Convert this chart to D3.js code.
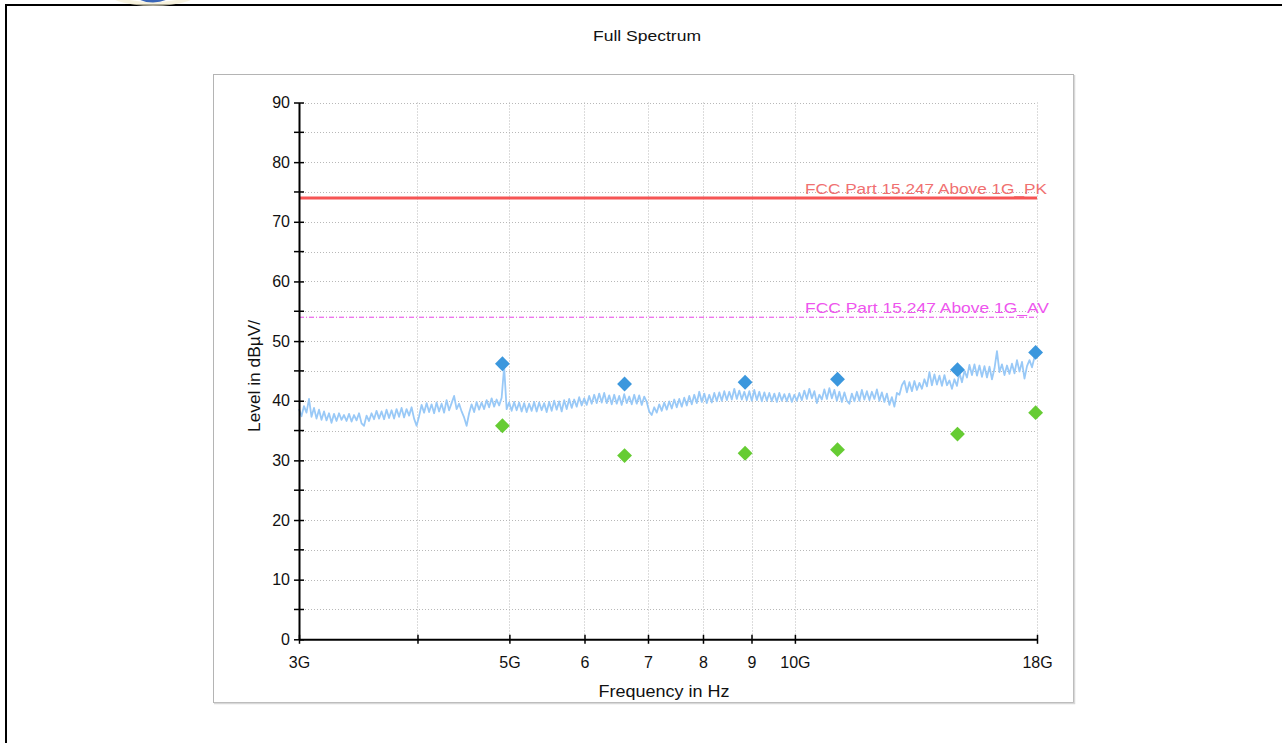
<!DOCTYPE html>
<html>
<head>
<meta charset="utf-8">
<script src="https://cdn.jsdelivr.net/npm/d3@7/dist/d3.min.js"></script>
<style>
  html, body { margin: 0; padding: 0; background: #fff; }
  svg { display: block; }
  text { font-family: "Liberation Sans", Arial, sans-serif; }
</style>
</head>
<body>
<svg id="chart" width="1282" height="743"></svg>
<script>
// ---- data ----
const chartTitle = "Full Spectrum";
const xAxisTitle = "Frequency in Hz";
const yAxisTitle = "Level in dBµV/";

// frequency axis (GHz): ticks and their labels
const xTickValues = [3, 4, 5, 6, 7, 8, 9, 10, 18];
const xTickLabels = ["3G", "", "5G", "6", "7", "8", "9", "10G", "18G"];
const xGridValues = [4, 5, 6, 7, 8, 9, 10, 18];

// level axis (dBµV)
const yMajorTicks = [0, 10, 20, 30, 40, 50, 60, 70, 80, 90];
const yMinorTicks = [5, 15, 25, 35, 45, 55, 65, 75, 85];

// limit lines
const limitNames = ["FCC Part 15.247 Above 1G_PK", "FCC Part 15.247 Above 1G_AV"];
const limitLevels = [74, 54];

// sweep: start / stop (GHz), levels at log-spaced points
const sweepStart = 3, sweepStop = 18;
const traceLevels = [
  38.6, 37.4, 39.1, 38.0, 40.3, 37.3, 38.8, 37.0, 38.5, 36.8, 38.2, 36.7, 37.9, 36.3, 37.8, 36.6, 37.9, 36.8, 37.6, 36.6,
  37.8, 36.5, 37.6, 36.7, 37.9, 36.2, 35.8, 37.5, 36.6, 37.9, 36.9, 38.3, 37.0, 38.2, 36.9, 38.5, 37.1, 38.4, 37.0, 38.6,
  37.3, 38.8, 37.2, 38.6, 37.5, 38.9, 37.0, 35.8, 37.4, 39.3, 38.0, 39.6, 38.1, 39.4, 37.9, 39.7, 38.2, 39.5, 38.0, 40.1,
  38.4, 39.6, 40.8, 38.6, 39.5, 38.2, 37.2, 35.8, 37.9, 39.4, 38.1, 39.8, 38.5, 39.7, 38.6, 40.1, 38.9, 40.4, 39.0, 40.2,
  39.2, 40.5, 45.7, 38.6, 39.7, 38.3, 39.8, 38.4, 39.7, 38.2, 39.6, 38.1, 39.5, 38.3, 39.8, 38.2, 39.7, 38.4, 39.6, 38.1,
  39.8, 38.3, 40.0, 38.5, 39.9, 38.2, 40.1, 38.6, 40.3, 38.8, 40.2, 39.0, 40.6, 39.2, 40.4, 39.3, 40.8, 39.5, 41.0, 39.6,
  41.2, 39.7, 41.3, 39.6, 40.9, 39.4, 41.0, 39.5, 40.8, 39.3, 41.1, 39.6, 40.7, 39.4, 41.0, 39.5, 40.9, 39.3, 40.7, 39.8,
  38.2, 37.6, 38.9, 38.0, 39.4, 38.3, 39.7, 38.5, 39.9, 38.7, 40.2, 38.9, 40.3, 39.0, 40.5, 39.2, 40.8, 39.4, 41.0, 39.6,
  41.5, 39.8, 41.2, 39.6, 41.0, 39.7, 41.3, 39.9, 41.4, 40.0, 41.6, 40.1, 41.5, 40.2, 42.0, 40.3, 41.7, 40.2, 41.5, 40.1,
  41.6, 40.0, 41.8, 40.1, 41.5, 39.9, 41.4, 40.0, 41.3, 39.9, 41.2, 39.8, 41.3, 40.0, 41.1, 39.9, 41.2, 39.8, 41.0, 40.0,
  41.3, 40.1, 41.7, 40.3, 42.0, 40.4, 41.6, 39.6, 41.0, 40.2, 41.9, 40.3, 42.1, 40.4, 41.8, 40.0, 41.5, 39.8, 41.4, 40.0,
  39.5, 41.2, 39.9, 41.5, 40.0, 41.8, 40.2, 41.6, 40.1, 41.5, 40.3, 41.9, 40.0, 41.4, 39.8, 41.2, 39.3, 40.6, 39.0, 41.3,
  41.0, 42.6, 43.3, 41.4, 43.1, 41.6, 43.3, 41.8, 43.0, 42.0, 43.6, 42.4, 44.8, 42.6, 44.4, 42.7, 44.2, 42.5, 44.3, 42.6,
  43.4, 42.0, 43.6, 42.5, 44.7, 43.1, 45.0, 43.9, 46.0, 44.3, 46.1, 44.2, 45.9, 44.0, 45.8, 43.9, 45.7, 43.6, 45.4, 48.3,
  44.8, 46.1, 44.3, 45.9, 44.5, 46.2, 44.6, 46.8, 44.9, 46.5, 43.7, 45.8, 46.8, 45.6, 47.3, 48.0
];

// final measurement points (GHz / dBµV)
const markerFreqs = [4.916, 6.613, 8.861, 11.09, 14.84, 17.94];
const peakLevels  = [46.2, 42.8, 43.1, 43.6, 45.2, 48.1];
const avgLevels   = [35.8, 30.8, 31.2, 31.8, 34.4, 38.0];

// ---- drawing ----
const svg = d3.select("#chart");

// outer frame
svg.append("rect").attr("x", 6).attr("y", 5).attr("width", 1400).attr("height", 900)
  .attr("fill", "none").attr("stroke", "#000").attr("stroke-width", 2);

// emblem edge peeking in at the top
svg.append("ellipse").attr("cx", 153).attr("cy", -12).attr("rx", 48).attr("ry", 16)
  .attr("fill", "none").attr("stroke", "#f3ecd0").attr("stroke-width", 4).attr("opacity", 0.7);
svg.append("ellipse").attr("cx", 153).attr("cy", -12).attr("rx", 21).attr("ry", 13)
  .attr("fill", "none").attr("stroke", "#3a66b8").attr("stroke-width", 3);

// title
svg.append("text").attr("x", 647).attr("y", 41).attr("text-anchor", "middle")
  .attr("font-size", 15).attr("fill", "#111")
  .attr("textLength", 108).attr("lengthAdjust", "spacingAndGlyphs")
  .text(chartTitle);

// inner panel
svg.append("rect").attr("x", 213.5).attr("y", 74.5).attr("width", 860).attr("height", 628)
  .attr("fill", "#fff").attr("stroke", "#b4b4b4").attr("stroke-width", 1);
svg.append("path").attr("d", "M1074.5,75 V703.5 H214")
  .attr("fill", "none").attr("stroke", "#d8d8d8").attr("stroke-width", 1.5);

const plotLeft = 299, plotRight = 1037, plotTop = 102.5, plotBottom = 639.3;
const x = d3.scaleLog().domain([3, 18]).range([plotLeft, plotRight]);
const y = d3.scaleLinear().domain([0, 90]).range([plotBottom, plotTop]);

const g = svg.append("g");

// grid
g.append("g").selectAll("line").data(yMajorTicks.concat(yMinorTicks).filter(v => v > 0))
  .join("line")
  .attr("x1", plotLeft).attr("x2", plotRight)
  .attr("y1", d => Math.round(y(d)) + 0.5).attr("y2", d => Math.round(y(d)) + 0.5)
  .attr("stroke", "#b8b8b8").attr("stroke-width", 1).attr("stroke-dasharray", "1,2");
g.append("g").selectAll("line").data(xGridValues)
  .join("line")
  .attr("x1", d => Math.round(x(d)) + 0.5).attr("x2", d => Math.round(x(d)) + 0.5)
  .attr("y1", plotTop).attr("y2", plotBottom)
  .attr("stroke", "#b8b8b8").attr("stroke-width", 1).attr("stroke-dasharray", "1,2");

// limit lines
const limitColors = ["#f65555", "#e642e6"];
const labelColors = ["#f07070", "#ee55ee"];
const limitWidths = [3, 1];
const limitDash = [null, "5,2,1,2"];
const labelEnds = [1047, 1049];
const labelWidths = [242, 244];
limitLevels.forEach((lv, i) => {
  g.append("line").attr("x1", plotLeft).attr("x2", plotRight)
    .attr("y1", y(lv)).attr("y2", y(lv))
    .attr("stroke", limitColors[i]).attr("stroke-width", limitWidths[i])
    .attr("stroke-dasharray", limitDash[i]);
  g.append("text").attr("x", labelEnds[i]).attr("y", y(lv) - 4)
    .attr("text-anchor", "end").attr("font-size", 15).attr("fill", labelColors[i])
    .attr("textLength", labelWidths[i]).attr("lengthAdjust", "spacingAndGlyphs")
    .text(limitNames[i]);
});

// spectrum trace
const nPts = traceLevels.length;
const traceFreqs = traceLevels.map((_, i) => sweepStart * Math.pow(sweepStop / sweepStart, i / (nPts - 1)));
const line = d3.line().x((d, i) => x(traceFreqs[i])).y(d => y(d));
g.append("path").datum(traceLevels)
  .attr("d", line)
  .attr("fill", "none").attr("stroke", "#99c9f7").attr("stroke-width", 1.8)
  .attr("stroke-linejoin", "round");

// axes
const xAxis = d3.axisBottom(x).tickValues(xTickValues)
  .tickFormat((d, i) => xTickLabels[i]).tickSize(0).tickPadding(17);
const xa = svg.append("g").attr("transform", `translate(0,${plotBottom})`).call(xAxis);
xa.select(".domain").attr("stroke", "#000").attr("stroke-width", 2);
xa.selectAll(".tick text").attr("font-size", 16).attr("fill", "#111")
  .attr("font-family", "Liberation Sans, Arial, sans-serif");
xa.selectAll(".tick").append("line").attr("y1", -4.5).attr("y2", 4.5)
  .attr("stroke", "#000").attr("stroke-width", 1.5);

const yAxis = d3.axisLeft(y).tickValues(yMajorTicks).tickSize(0).tickPadding(9);
const ya = svg.append("g").attr("transform", `translate(${plotLeft},0)`).call(yAxis);
ya.select(".domain").attr("stroke", "#000").attr("stroke-width", 2);
ya.selectAll(".tick text").attr("font-size", 16).attr("fill", "#111")
  .attr("font-family", "Liberation Sans, Arial, sans-serif");
ya.selectAll(".tick").append("line").attr("x1", -5).attr("x2", 5)
  .attr("stroke", "#000").attr("stroke-width", 1.5);
ya.append("g").selectAll("line").data(yMinorTicks).join("line")
  .attr("x1", -5).attr("x2", 5).attr("y1", d => y(d)).attr("y2", d => y(d))
  .attr("stroke", "#000").attr("stroke-width", 1.5);

// axis titles
svg.append("text").attr("x", 664).attr("y", 697).attr("text-anchor", "middle")
  .attr("font-size", 16).attr("fill", "#111")
  .attr("textLength", 131).attr("lengthAdjust", "spacingAndGlyphs")
  .text(xAxisTitle);
svg.append("text").attr("transform", "translate(260,376) rotate(-90)")
  .attr("text-anchor", "middle").attr("font-size", 16).attr("fill", "#111")
  .attr("textLength", 112).attr("lengthAdjust", "spacingAndGlyphs")
  .text(yAxisTitle);

// measurement markers
const diamond = d3.symbol(d3.symbolSquare, 110);
svg.append("g").selectAll("path").data(markerFreqs).join("path")
  .attr("d", diamond)
  .attr("transform", (d, i) => `translate(${x(d)},${y(avgLevels[i])}) rotate(45)`)
  .attr("fill", "#66cc33");
svg.append("g").selectAll("path").data(markerFreqs).join("path")
  .attr("d", diamond)
  .attr("transform", (d, i) => `translate(${x(d)},${y(peakLevels[i])}) rotate(45)`)
  .attr("fill", "#3b97dd");
</script>
</body>
</html>
